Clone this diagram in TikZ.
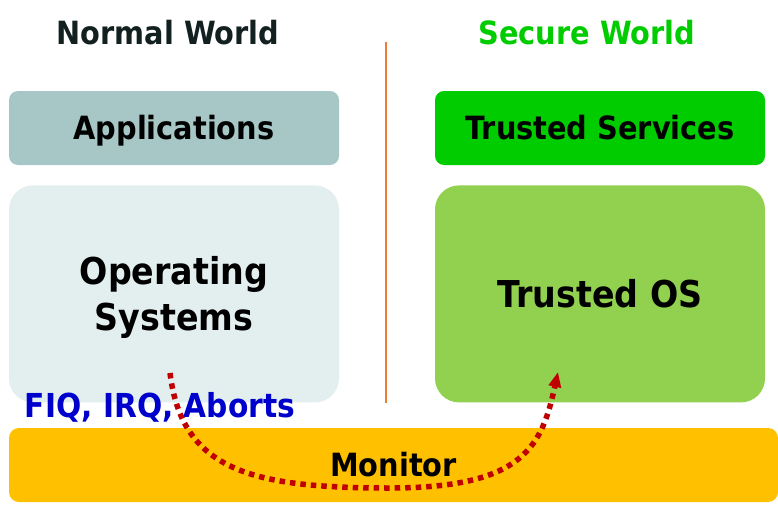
\documentclass[tikz,border=0pt]{standalone}
\usepackage{fontspec}
\setmainfont{DejaVu Sans Condensed}
\usepackage{tikz}
\usetikzlibrary{arrows.meta,positioning}
\definecolor{AppGray}{HTML}{A7C7C6}
\definecolor{OSGray}{HTML}{E3EFEF}
\definecolor{TrustGreen}{HTML}{00CC00}
\definecolor{OSGreen}{HTML}{92D050}
\definecolor{MonGold}{HTML}{FFC000}
\definecolor{TitleDark}{HTML}{122020}
\definecolor{SplitOrange}{HTML}{ED7D31}
\definecolor{IrqBlue}{HTML}{0000CC}
\definecolor{PathRed}{HTML}{C00000}
\tikzset{
  WB/.style={rectangle,inner sep=0pt,minimum width=330pt,
             text centered,align=center,font=\bfseries\fontsize{32}{38}\selectfont},
  one/.style={text height=23pt,text depth=0pt},
  nApp/.style={WB,one,fill=AppGray,rounded corners=9pt,minimum height=74pt},
  nSvc/.style={WB,one,fill=TrustGreen,rounded corners=9pt,minimum height=74pt},
  nOS/.style={WB,fill=OSGray,rounded corners=24pt,minimum height=217pt,
              font=\bfseries\fontsize{37}{46}\selectfont},
  nTOS/.style={WB,fill=OSGreen,rounded corners=24pt,minimum height=217pt,
               text height=27pt,text depth=0pt,
               font=\bfseries\fontsize{37}{46}\selectfont},
  ttl/.style={font=\bfseries\fontsize{32}{38}\selectfont},
  hop/.style={-{Triangle[length=15pt,width=12pt]},line width=5.5pt,
              draw=PathRed,dash pattern=on 5.5pt off 5pt}
}
\begin{document}
\begin{tikzpicture}[x=1pt,y=-1pt]
  \useasboundingbox (0,0) rectangle (778,506);

  % Titles
  \node[ttl,text=TitleDark] (nw) at (168,33) {Normal World};
  \node[ttl,text=TrustGreen] (sw) at (587,33) {Secure World};
  \draw[SplitOrange,line width=2pt] (386,42) -- (386,403);

  % Normal world
  \node[nApp] (apps) at (174,128) {Applications};
  \node[nOS,below=20pt of apps] (os) {\rule{0pt}{36pt}Operating\\Systems};

  % Secure world
  \node[nSvc] (svc) at (600,128) {Trusted Services};
  \node[nTOS,below=20pt of svc] (tos) {Trusted OS};

  % Monitor
  \node[WB,one,fill=MonGold,rounded corners=10pt,minimum width=769pt,
        minimum height=74pt] (mon) at (393.5,465) {Monitor};
  \node[ttl,text=IrqBlue,font=\bfseries\fontsize{33}{38}\selectfont] (irq)
        at (160,407) {FIQ, IRQ, Aborts};

  \coordinate (from) at (170,373);
  \coordinate (to) at (558,372);
  \draw[hop] (from) .. controls (182,470) and (250,488) .. (390,488)
             .. controls (525,488) and (542,445) .. (to);
\end{tikzpicture}
\end{document}
